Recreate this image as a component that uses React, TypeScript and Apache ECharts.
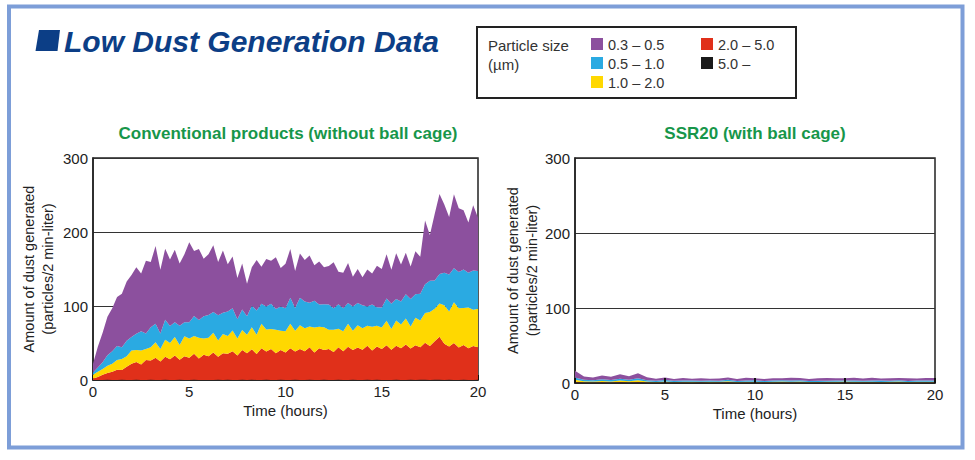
import React, { useEffect, useRef } from 'react';
import * as echarts from 'echarts';

// ---- Data: left chart (Conventional products), sampled every 0.25 h ----
const leftStep = 0.25;
const leftBlack = [0,0,0,0.4,0, 0,0.4,0,0, 0.4,0,0,0.4, 0,0,0.4,0, 0,0.4,0,0, 0.4,0,0,0, 0,0.4,0,0.4, 0,0,0.4,0, 0.4,0,0,0.4, 0,0,0.4,0, 0,0.4,0,0, 0.4,0,0,0.4, 0,0,0.4,0, 0,0.4,0,0, 0.4,0,0.4,0, 0,0,0.4,0, 0,0.4,0,0.4, 0.4,0,0.4,0.4, 0,0.4,0,0, 0.4,0,0,0.4];
const leftRed = [2,4,7,9,11, 14,13,18,22, 24,21,27,26, 30,25,31,28, 33,27,32,30, 35,29,34,32, 37,31,36,35, 39,33,40,36, 41,35,43,38, 42,36,40,37, 43,38,42,39, 44,37,43,40, 42,38,44,39, 45,40,44,41, 46,40,45,42, 47,41,46,43, 48,42,47,44, 50,46,52,58, 49,45,50,44, 47,43,46,44];
const leftYellow = [5,7,8,10,11, 13,15,14,18, 16,19,15,18, 21,17,23,22, 25,20,27,26, 24,28,22,25, 27,22,26,24, 28,23,27,25, 30,26,33,30, 27,32,26,29, 33,28,32,31, 28,34,29,31, 26,30,25,27, 31,26,30,29, 27,32,28,29, 33,28,34,32, 35,30,37,36, 40,46,44,45, 52,47,55,53, 50,55,49,52];
const leftBlue = [3,6,9,14,17, 19,16,21,18, 22,26,21,27, 25,21,27,23, 20,26,19,22, 27,24,30,31, 28,34,29,33, 30,26,28,25, 29,33,27,31, 34,28,33,31, 35,31,37,36, 32,36,30,31, 34,29,33,31, 28,33,30,31, 26,30,25,27, 30,34,29,31, 33,37,32,36, 39,42,38,40, 44,50,46,49, 52,47,53,51];
const leftPurple = [12,28,40,52,58, 66,72,80,84, 90,78,98,88, 105,86,96,90, 98,84,92,108, 88,96,78,82, 90,72,84,64, 70,56,62,44, 52,68,50,64, 58,70,52,60, 66,50,60,56, 64,48,58,50, 52,62,44,48, 54,40,46,38, 50,42,56,52, 60,46,62,50, 56,44,58,50, 86,62,90,108, 92,78,100,86, 80,68,88,72];

// ---- Data: right chart (SSR20), sampled every 0.5 h ----
const rightStep = 0.5;
const rightBlack = [0.3, 0,0.2,0,0, 0.2,0,0.3,0, 0,0,0.2,0, 0,0.2,0,0, 0.2,0,0,0.2, 0,0,0.2,0, 0.2,0,0,0, 0,0.2,0,0, 0.2,0,0,0.2, 0,0,0.2,0];
const rightRed = [1.5, 0.8,0.5,0.9,0.6, 1.0,0.7,1.2,0.6, 0.5,0.8,0.4,0.6, 0.5,0.7,0.4,0.6, 0.8,0.5,0.6,0.4, 0.7,0.5,0.6,0.8, 0.5,0.4,0.7,0.6, 0.5,0.8,0.4,0.6, 0.5,0.7,0.5,0.6, 0.4,0.7,0.5,0.6];
const rightYellow = [2.5, 1.5,1.2,1.8,1.4, 2.0,1.6,2.2,1.3, 1.0,1.3,0.9,1.2, 1.1,0.8,1.2,1.0, 1.3,0.9,1.1,1.2, 0.8,1.1,1.3,0.9, 1.2,1.0,0.8,1.1, 1.3,0.9,1.2,1.0, 1.1,0.8,1.2,1.3, 0.9,1.1,1.0,1.2];
const rightBlue = [3.0, 2.0,1.8,2.4,2.0, 2.6,2.2,2.8,1.9, 1.5,1.8,1.4,1.7, 1.6,1.3,1.8,1.5, 1.9,1.4,1.6,1.8, 1.3,1.7,1.5,1.6, 1.8,1.4,1.6,1.3, 1.7,1.5,1.9,1.4, 1.6,1.8,1.3,1.7, 1.5,1.6,1.8,1.4];
const rightPurple = [9.0, 4.5,3.8,4.8,4.2, 5.8,4.6,6.5,3.9, 2.8,3.4,2.5,3.1, 2.6,3.5,2.4,3.0, 3.3,2.7,3.6,2.9, 2.5,3.2,2.8,3.7, 3.0,2.6,3.4,3.8, 2.7,3.1,3.5,2.9, 3.6,2.8,3.3,3.0, 3.4,2.7,3.2,3.6];

// ---- Labels ----
const sizeClasses = ['5.0 –', '2.0 – 5.0', '1.0 – 2.0', '0.5 – 1.0', '0.3 – 0.5'];
const sizeColors = ['#1a1a1a', '#e0301a', '#ffd800', '#2aaae2', '#8c509e'];
const mainTitle = 'Low Dust Generation Data';
const leftTitle = 'Conventional products (without ball cage)';
const rightTitle = 'SSR20 (with ball cage)';
const xName = 'Time (hours)';
const yName = 'Amount of dust generated\n(particles/2 min-liter)';
const hourTickStep = 5;

const FONT = '"Liberation Sans", Arial, Helvetica, sans-serif';

function hoursFor(n: number, step: number) {
  return Array.from({ length: n }, (_, i) => String(+(i * step).toFixed(2)));
}

export default function App() {
  const ref = useRef<HTMLDivElement>(null);
  useEffect(() => {
    document.body.style.margin = '0';
    document.body.style.overflow = 'hidden';
    if (!ref.current) return;
    const chart = echarts.init(ref.current, null, { renderer: 'svg' });

    const leftSets = [leftBlack, leftRed, leftYellow, leftBlue, leftPurple];
    const rightSets = [rightBlack, rightRed, rightYellow, rightBlue, rightPurple];

    const mkSeries = (sets: number[][], idx: number, stack: string) =>
      sets.map((vals, k) => ({
        name: sizeClasses[k],
        type: 'line',
        xAxisIndex: idx,
        yAxisIndex: idx,
        stack,
        data: vals,
        showSymbol: false,
        symbol: 'none',
        lineStyle: { width: 0 },
        areaStyle: { color: sizeColors[k], opacity: 1 },
        itemStyle: { color: sizeColors[k] },
        z: 2,
      }));

    const axisX = (gi: number, n: number, step: number, z: number) => {
      const every = Math.round(hourTickStep / step);
      return {
        gridIndex: gi,
        type: 'category',
        boundaryGap: false,
        data: hoursFor(n, step),
        z,
        axisLine: { show: true, lineStyle: { color: '#222', width: 1.5 } },
        axisTick: { show: true, inside: true, length: 5, interval: every - 1, lineStyle: { color: '#111', width: 2 } },
        axisLabel: { fontSize: 15, color: '#222', margin: 4, interval: every - 1, fontFamily: FONT },
        splitLine: { show: false },
        name: xName,
        nameLocation: 'middle',
        nameGap: 23,
        nameTextStyle: { fontSize: 15, color: '#222', fontFamily: FONT },
      };
    };
    const axisY = (gi: number, gap: number) => ({
      gridIndex: gi,
      type: 'value',
      min: 0,
      max: 300,
      interval: 100,
      axisLine: { show: true, lineStyle: { color: '#222', width: 1.5 } },
      axisTick: { show: false },
      axisLabel: { fontSize: 15, color: '#222', margin: 5, fontFamily: FONT },
      splitLine: { show: true, lineStyle: { color: '#333', width: 1.2 } },
      name: yName,
      nameLocation: 'middle',
      nameRotate: 90,
      nameGap: gap,
      nameTextStyle: { fontSize: 14.5, color: '#222', lineHeight: 19, fontFamily: FONT },
    });

    const legendRows = [
      { k: 4, x: 591, y: 44 },
      { k: 3, x: 591, y: 63 },
      { k: 2, x: 591, y: 82 },
      { k: 1, x: 701, y: 44 },
      { k: 0, x: 701, y: 63 },
    ];

    const graphic: any[] = [
      { type: 'rect', shape: { x: 9, y: 6.5, width: 953.5, height: 441 }, style: { fill: 'none', stroke: '#7d9ed8', lineWidth: 4 }, silent: true },
      { type: 'polygon', shape: { points: [[39, 30], [60, 30], [57.5, 51], [35.5, 51]] }, style: { fill: '#0c3e86' } },
      { type: 'text', x: 64, y: 41, style: { text: mainTitle, font: `italic bold 30px ${FONT}`, fill: '#0c3e86', textAlign: 'left', textVerticalAlign: 'middle' } },
      { type: 'text', x: 288, y: 133, style: { text: leftTitle, font: `bold 17px ${FONT}`, fill: '#17964a', textAlign: 'center', textVerticalAlign: 'middle' } },
      { type: 'text', x: 755, y: 133, style: { text: rightTitle, font: `bold 17px ${FONT}`, fill: '#17964a', textAlign: 'center', textVerticalAlign: 'middle' } },
      { type: 'rect', shape: { x: 477, y: 27, width: 319, height: 71 }, style: { fill: '#fff', stroke: '#222', lineWidth: 2 } },
      { type: 'text', x: 488, y: 45, style: { text: 'Particle size', font: `15px ${FONT}`, fill: '#333', textAlign: 'left', textVerticalAlign: 'middle' } },
      { type: 'text', x: 488, y: 64, style: { text: '(µm)', font: `15px ${FONT}`, fill: '#333', textAlign: 'left', textVerticalAlign: 'middle' } },
    ];
    legendRows.forEach((r) => {
      graphic.push({ type: 'rect', shape: { x: r.x, y: r.y - 6, width: 12, height: 12 }, style: { fill: sizeColors[r.k] } });
      graphic.push({ type: 'text', x: r.x + 17, y: r.y + 1, style: { text: sizeClasses[r.k], font: `14.5px ${FONT}`, fill: '#333', textAlign: 'left', textVerticalAlign: 'middle' } });
    });

    chart.setOption({
      animation: false,
      backgroundColor: '#ffffff',
      textStyle: { fontFamily: FONT },
      grid: [
        { left: 93, top: 158, width: 385, height: 222, show: true, borderColor: '#222', borderWidth: 1.5, backgroundColor: 'transparent' },
        { left: 575, top: 158, width: 360, height: 225, show: true, borderColor: '#222', borderWidth: 1.5, backgroundColor: 'transparent' },
      ],
      xAxis: [axisX(0, leftPurple.length, leftStep, 0), axisX(1, rightPurple.length, rightStep, 3)],
      yAxis: [axisY(0, 36), axisY(1, 31)],
      series: [
        ...mkSeries(leftSets, 0, 'left'),
        ...mkSeries(rightSets, 1, 'right'),
      ],
      graphic,
    } as any);

    return () => chart.dispose();
  }, []);
  return <div ref={ref} style={{ width: 975, height: 460 }} />;
}
